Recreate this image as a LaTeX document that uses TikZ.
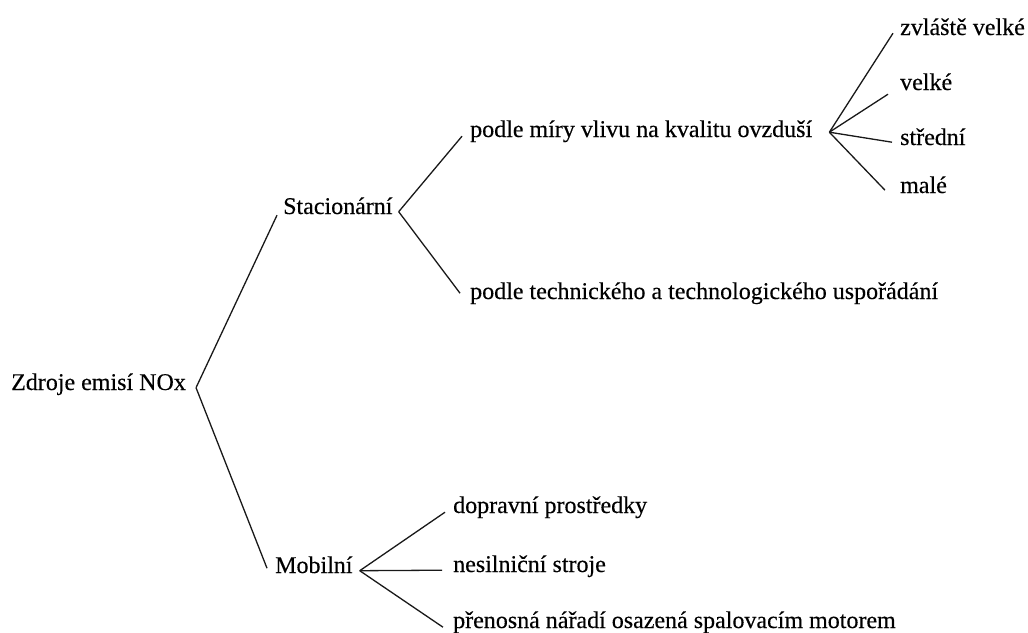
\documentclass[tikz,border=0pt]{standalone}
\usepackage{fontspec}
\setmainfont{Liberation Serif}
\newfontfamily\reffont{Liberation Serif}[FakeBold=0.3]
\begin{document}
\begin{tikzpicture}[x=1pt,y=-1pt,
  lbl/.style={inner sep=0pt, anchor=base west, font=\reffont\fontsize{24}{28}\selectfont, text=black},
  conn/.style={draw=black!90, line width=1.3pt}]
\useasboundingbox (0,0) rectangle (1028,632);
\fill[white] (0,0) rectangle (1028,632);
% nodes
\node[lbl] (root) at (11,390) {Zdroje emisí NOx};
\node[lbl] (stac) at (283,214) {Stacionární};
\node[lbl] (mob) at (275,573) {Mobilní};
\node[lbl] (miry) at (470,137) {podle míry vlivu na kvalitu ovzduší};
\node[lbl] (tech) at (470,299) {podle technického a technologického uspořádání};
\node[lbl] (zv) at (900,35) {zvláště velké};
\node[lbl] (velke) at (900,90) {velké};
\node[lbl] (stred) at (900,145) {střední};
\node[lbl] (male) at (900,193) {malé};
\node[lbl] (dopr) at (453,513) {dopravní prostředky};
\node[lbl] (nesil) at (453,572) {nesilniční stroje};
\node[lbl] (pren) at (453,628) {přenosná nářadí osazená spalovacím motorem};
% connectors
\draw[conn] ([xshift=10pt]root.mid east) -- ([xshift=-6pt,yshift=-3.5pt]stac.mid west);
\draw[conn] ([xshift=10pt]root.mid east) -- ([xshift=-8pt,yshift=2.5pt]mob.mid west);
\draw[conn] ([xshift=6pt]stac.mid east) -- ([xshift=-8pt,yshift=-1.5pt]miry.mid west);
\draw[conn] ([xshift=6pt]stac.mid east) -- ([xshift=-10pt,yshift=3.5pt]tech.mid west);
\draw[conn] ([xshift=17pt,yshift=2.5pt]miry.mid east) -- ([xshift=-7pt,yshift=-0.5pt]zv.mid west);
\draw[conn] ([xshift=17pt,yshift=2.5pt]miry.mid east) -- ([xshift=-12pt,yshift=-6.5pt]velke.mid west);
\draw[conn] ([xshift=17pt,yshift=2.5pt]miry.mid east) -- ([xshift=-8pt,yshift=0.5pt]stred.mid west);
\draw[conn] ([xshift=17pt,yshift=2.5pt]miry.mid east) -- ([xshift=-15pt,yshift=0.5pt]male.mid west);
\draw[conn] ([xshift=7pt]mob.mid east) -- ([xshift=-8pt,yshift=-1.5pt]dopr.mid west);
\draw[conn] ([xshift=7pt]mob.mid east) -- ([xshift=-11pt,yshift=-0.5pt]nesil.mid west);
\draw[conn] ([xshift=7pt]mob.mid east) -- ([xshift=-10pt,yshift=-1.5pt]pren.mid west);
\end{tikzpicture}
\end{document}
